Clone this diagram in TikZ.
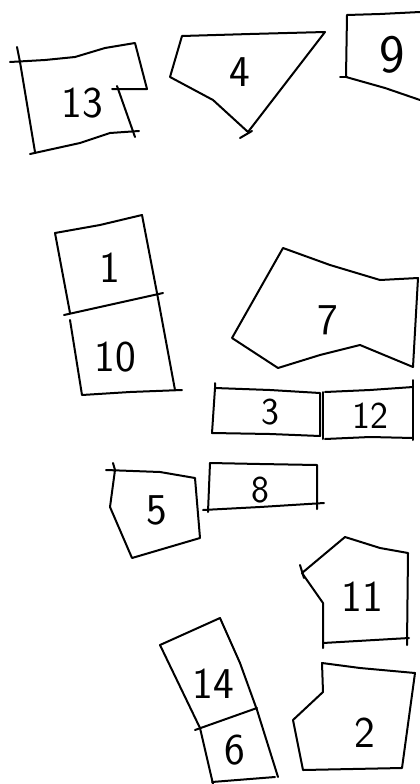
\documentclass[tikz,border=0pt]{standalone}
\usepackage{tikz}

\tikzset{
  piece/.style={line width=2pt, line join=round, line cap=round},
  num/.style={font=\sffamily\fontsize{44}{44}\selectfont, inner sep=0pt},
  smallnum/.style={num, font=\sffamily\fontsize{38}{38}\selectfont}
}

\begin{document}
\begin{tikzpicture}[x=1pt,y=-1pt]
% 조각 배치 스케치 (픽셀 좌표, y 아래쪽)
\useasboundingbox[fill=white] (0,0) rectangle (420,784);
% 13
\draw[piece] (10,62) -- (45,60) -- (75,57) -- (105,48) -- (135,43) -- (147,89) -- (112,89);
\draw[piece] (117,86) -- (135,137);
\draw[piece] (139,131) -- (110,133) -- (80,143) -- (30,154);
\draw[piece] (17,47) -- (20,62) -- (35,152);
\node[num] (n13) at (82,103) {13};
% 4
\draw[piece] (182,36) -- (250,34) -- (325,32) -- (248,132) -- (213,100) -- (170,77) -- cycle;
\draw[piece] (240,138) -- (252,131);
\node[num] (n4) at (240,72) {4};
% 9
\draw[piece] (420,12) -- (380,14) -- (347,15) -- (346,77) -- (385,88) -- (420,100);
\draw[piece] (340,77) -- (347,77);
\node[num, font=\sffamily\fontsize{54}{54}\selectfont] (n9) at (392,55) {9};
% 1 / 10
\draw[piece] (55,233) -- (100,225) -- (142,215) -- (157,293) -- (175,390);
\draw[piece] (55,233) -- (70,313);
\draw[piece] (70,320) -- (82,395) -- (130,392) -- (182,390);
\draw[piece] (64,315) -- (163,293);
\node[num] (n1) at (110,268) {1};
\node[num] (n10) at (115,357) {10};
% 7
\draw[piece] (283,248) -- (330,265) -- (380,280) -- (418,278) -- (413,367) -- (360,345) -- (320,355) -- (278,368) -- (232,338) -- cycle;
\node[num] (n7) at (328,320) {7};
% 3 / 12
\draw[piece] (215,383) -- (215,388) -- (270,390) -- (320,393) -- (320,436) -- (270,434) -- (212,433) -- (215,388);
\draw[piece] (323,392) -- (323,439);
\draw[piece] (325,392) -- (370,390) -- (413,387);
\draw[piece] (413,380) -- (413,440);
\draw[piece] (325,439) -- (370,437) -- (413,438);
\node[smallnum] (n3) at (270,412) {3};
\node[smallnum] (n12) at (370,416) {12};
% 5 / 8
\draw[piece] (106,470) -- (160,472) -- (195,478) -- (200,538) -- (132,558) -- (110,507) -- (115,470) -- (113,463);
\node[num] (n5) at (157,510) {5};
\draw[piece] (210,463) -- (260,464) -- (317,465) -- (317,509);
\draw[piece] (203,510) -- (260,507) -- (324,503);
\draw[piece] (210,463) -- (208,512);
\node[smallnum] (n8) at (260,490) {8};
% 11
\draw[piece] (345,537) -- (380,548) -- (408,553) -- (407,645);
\draw[piece] (409,638) -- (323,643);
\draw[piece] (323,648) -- (323,603) -- (302,573) -- (345,537);
\draw[piece] (300,565) -- (304,578);
\node[num] (n11) at (362,597) {11};
% 2
\draw[piece] (322,663) -- (360,668) -- (415,673) -- (402,768) -- (303,770) -- (293,720) -- (323,692) -- cycle;
\node[num] (n2) at (365,733) {2};
% 14 / 6
\draw[piece] (160,645) -- (220,618) -- (240,663) -- (257,710) -- (278,777);
\draw[piece] (160,645) -- (200,728) -- (213,784);
\draw[piece] (212,782) -- (275,777);
\draw[piece] (195,730) -- (257,708);
\node[num] (n14) at (213,684) {14};
\node[num] (n6) at (235,750) {6};
\end{tikzpicture}
\end{document}
